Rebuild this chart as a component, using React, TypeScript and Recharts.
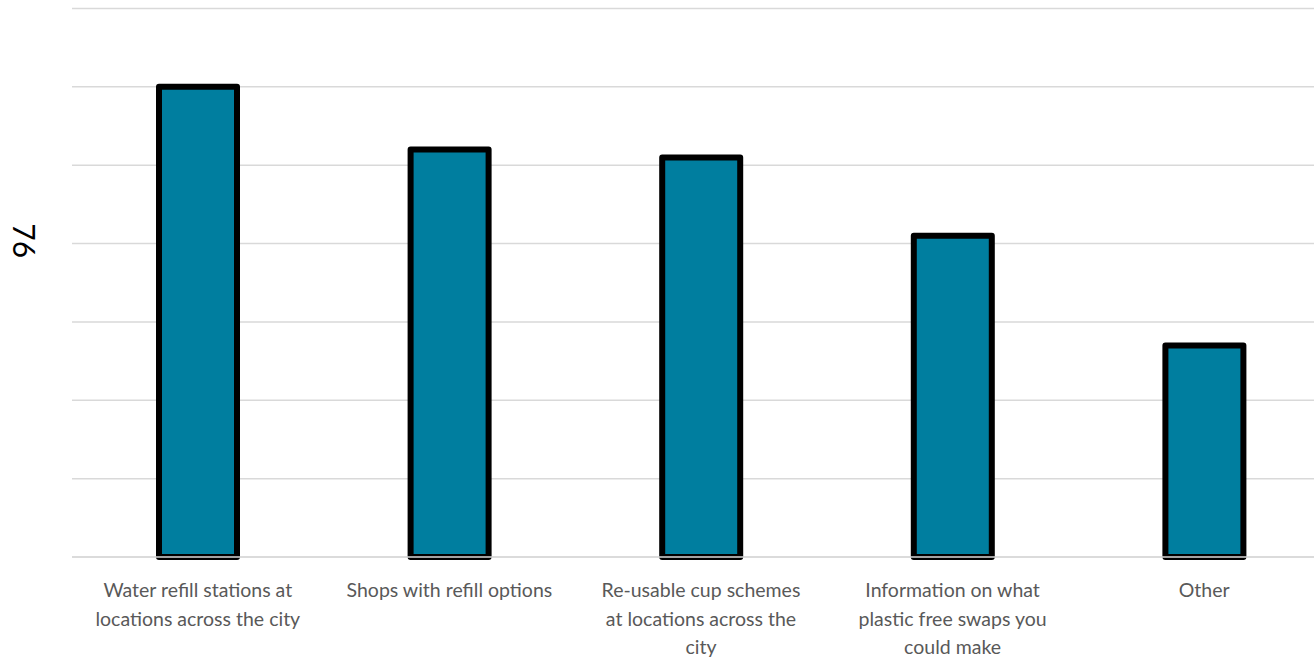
import { BarChart, Bar, XAxis, YAxis, CartesianGrid } from "recharts";

const categories = [
  "Water refill stations at\nlocations across the city",
  "Shops with refill options",
  "Re-usable cup schemes\nat locations across the\ncity",
  "Information on what\nplastic free swaps you\ncould make",
  "Other",
];
const values = [60, 52, 51, 41, 27];
const yTicks = [0, 10, 20, 30, 40, 50, 60, 70];
const axisTitle = "76";

const data = categories.map((name, i) => ({ name, value: values[i] }));

const FONT = "Lato, 'Open Sans', sans-serif";

function CategoryTick(props: any) {
  const { x, y, payload } = props;
  const lines = String(payload.value).split("\n");
  return (
    <text
      x={x}
      y={y}
      textAnchor="middle"
      fill="#595959"
      fontSize={19.5}
      fontFamily={FONT}
    >
      {lines.map((line, i) => (
        <tspan key={i} x={x} dy={i === 0 ? 32 : 28.7}>
          {line}
        </tspan>
      ))}
    </text>
  );
}

function NoTick() {
  return <g />;
}

function AxisTitle(props: any) {
  const { viewBox } = props;
  const cx = viewBox.x + 25;
  const cy = viewBox.y + viewBox.height / 2 - 42;
  return (
    <text
      x={cx}
      y={cy}
      transform={`rotate(90, ${cx}, ${cy})`}
      textAnchor="middle"
      dominantBaseline="central"
      fontSize={30}
      fill="#000"
      fontFamily={FONT}
    >
      {axisTitle}
    </text>
  );
}

export default function App() {
  return (
    <div style={{ position: "absolute", left: 0, top: 0, background: "#fff" }}>
      <BarChart
        width={1314}
        height={658}
        data={data}
        margin={{ top: 8.5, right: -16, left: 0, bottom: 0 }}
      >
        <CartesianGrid vertical={false} stroke="#D9D9D9" strokeWidth={1.5} />
        <XAxis
          dataKey="name"
          height={101}
          interval={0}
          tickLine={false}
          axisLine={{ stroke: "#D9D9D9", strokeWidth: 1.5 }}
          tick={<CategoryTick />}
        />
        <YAxis
          domain={[0, 70]}
          ticks={yTicks}
          interval={0}
          width={72}
          tick={<NoTick />}
          tickLine={false}
          axisLine={false}
          label={<AxisTitle />}
        />
        <Bar
          dataKey="value"
          fill="#007E9F"
          stroke="#000"
          strokeWidth={6}
          strokeLinejoin="round"
          barSize={78}
          isAnimationActive={false}
        />
      </BarChart>
    </div>
  );
}
